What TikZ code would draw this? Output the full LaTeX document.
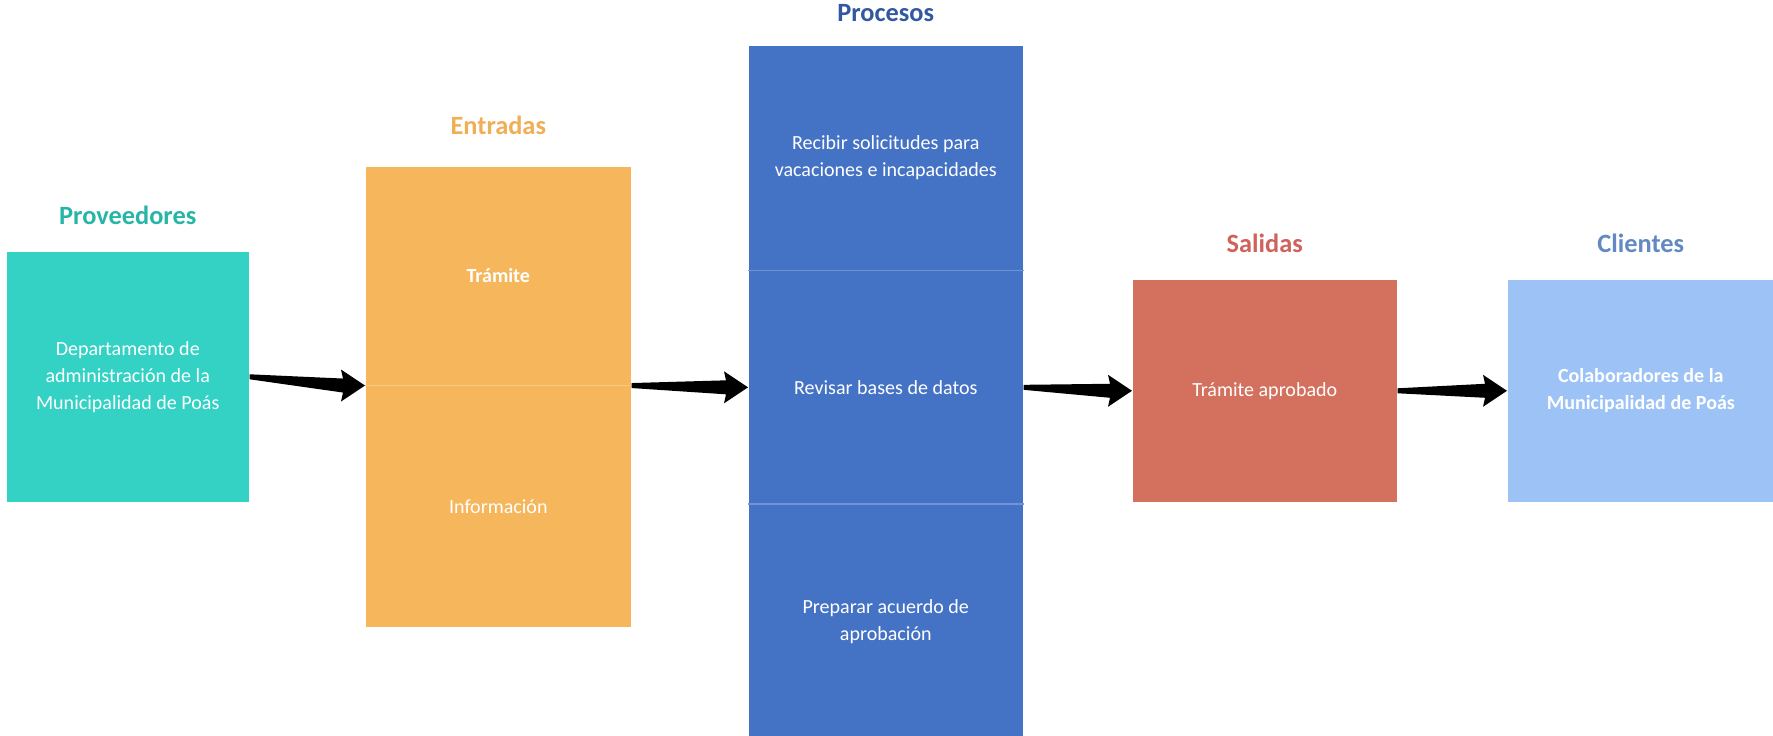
\documentclass[tikz,border=0pt]{standalone}
\usepackage{fontspec}
\setmainfont{Carlito}
\usetikzlibrary{positioning,calc}

\definecolor{turquesa}{HTML}{33D2C5}
\definecolor{turquesaosc}{HTML}{27B5A7}
\definecolor{naranja}{HTML}{F6B65B}
\definecolor{naranjaosc}{HTML}{F0AE55}
\definecolor{naranjaclaro}{HTML}{F9C985}
\definecolor{azul}{HTML}{4472C4}
\definecolor{azulosc}{HTML}{33589F}
\definecolor{azulclaro}{HTML}{7094D6}
\definecolor{rojo}{HTML}{D4705E}
\definecolor{rojoosc}{HTML}{D0625C}
\definecolor{celeste}{HTML}{9DC3F6}
\definecolor{celesteosc}{HTML}{6389C2}

\begin{document}
\begin{tikzpicture}[x=0.01cm,y=-0.01cm]
\tikzstyle{every node}+=[inner sep=0pt, font=\fontsize{5.7}{7.7}\selectfont]
\tikzstyle{caja}=[rectangle, anchor=north west, text=white, align=center]
\tikzstyle{titulo}=[font=\fontsize{7.5}{9}\selectfont\bfseries, text depth=0pt]
\tikzstyle{divisor}=[line width=0.5pt]
\tikzstyle{flecha}=[draw=none, fill=black, to path={
  ($(\tikztostart)+(0,-2.5)$) -- ($(\tikztotarget)+(-22,-7)$)
  -- ($(\tikztotarget)+(-24,-16)$) -- (\tikztotarget)
  -- ($(\tikztotarget)+(-24,16)$) -- ($(\tikztotarget)+(-22,7)$)
  -- ($(\tikztostart)+(0,2.5)$) -- cycle}]

\useasboundingbox (0,0) rectangle (1773,735);

% cajas
\node (prov) [caja, fill=turquesa, minimum width=2.42cm, minimum height=2.5cm] at (6,251)
  {Departamento de\\administración de la\\Municipalidad de Poás};
\node (tram) [caja, fill=naranja, minimum width=2.65cm, minimum height=2.18cm] at (365,166)
  {\bfseries Trámite};
\node (info) [caja, fill=naranja, minimum width=2.65cm, minimum height=2.41cm, below=0pt of tram]
  {Información};
\node (recibir) [caja, fill=azul, minimum width=2.74cm, minimum height=2.24cm] at (748,45)
  {Recibir solicitudes para\\vacaciones e incapacidades};
\node (revisar) [caja, fill=azul, minimum width=2.74cm, minimum height=2.32cm, below=0pt of recibir]
  {Revisar bases de datos};
\node (preparar) [caja, fill=azul, minimum width=2.74cm, minimum height=2.34cm, below=0pt of revisar]
  {Preparar acuerdo de\\aprobación};
\node (salida) [caja, fill=rojo, minimum width=2.64cm, minimum height=2.22cm] at (1132,279)
  {Trámite aprobado};
\node (cliente) [caja, fill=celeste, minimum width=2.66cm, minimum height=2.22cm] at (1507,279)
  {\bfseries Colaboradores de la\\\bfseries Municipalidad de Poás};

\draw[divisor, naranjaclaro] (tram.south west) -- (tram.south east);
\draw[divisor, azulclaro] (recibir.south west) -- (recibir.south east);
\draw[divisor, azulclaro] (revisar.south west) -- (revisar.south east);

% titulos
\node (tprov) [titulo, text=turquesaosc, above=7.2pt of prov] {Proveedores};
\node (tentr) [titulo, text=naranjaosc, above=8.9pt of tram] {Entradas};
\node (tproc) [titulo, text=azulosc, above=6.4pt of recibir] {Procesos};
\node (tsal) [titulo, text=rojoosc, above=7.2pt of salida] {Salidas};
\node (tcli) [titulo, text=celesteosc, above=7.2pt of cliente] {Clientes};

\path
  (prov.east) edge[flecha] (tram.south west)
  (tram.south east) edge[flecha] (revisar.west)
  (revisar.east) edge[flecha] (salida.west)
  (salida.east) edge[flecha] (cliente.west)
;
\end{tikzpicture}
\end{document}
